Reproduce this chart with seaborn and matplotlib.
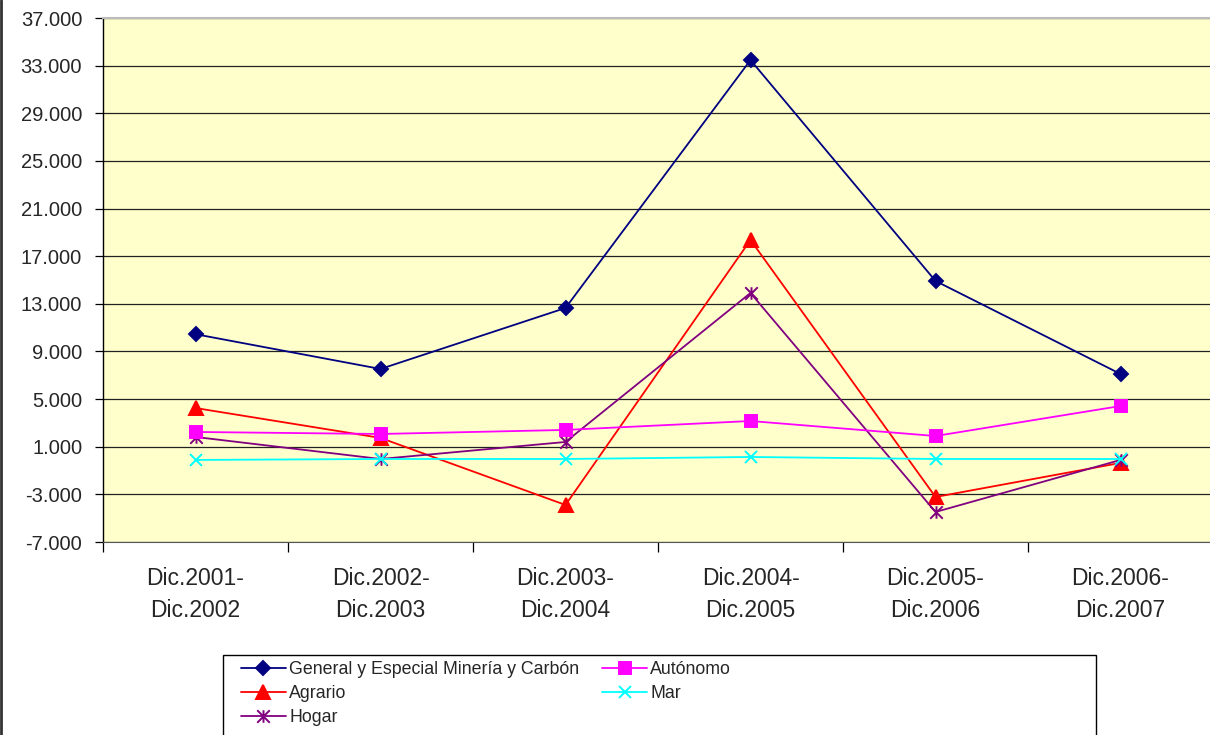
import pandas as pd
import seaborn as sns
import numpy as np
import matplotlib
matplotlib.use("Agg")
import matplotlib.pyplot as plt
from matplotlib.path import Path
from matplotlib.patches import Rectangle
from matplotlib.lines import Line2D
from matplotlib.ticker import FuncFormatter, FixedLocator

# data
periodos = ["Dic.2001-\nDic.2002", "Dic.2002-\nDic.2003", "Dic.2003-\nDic.2004",
            "Dic.2004-\nDic.2005", "Dic.2005-\nDic.2006", "Dic.2006-\nDic.2007"]
general = [10450, 7530, 12650, 33470, 14920, 7110]
agrario = [4250, 1740, -3890, 18360, -3220, -360]
autonomo = [2240, 2070, 2410, 3160, 1900, 4420]
mar = [-110, -30, -30, 140, -30, -30]
hogar = [1820, -30, 1400, 13910, -4480, -110]

series = ["General y Especial Minería y Carbón", "Agrario", "Hogar", "Autónomo", "Mar"]
valores = [general, agrario, hogar, autonomo, mar]
colores = ["#000080", "#FF0000", "#800080", "#FF00FF", "#00FFFF"]

# excel style asterisk (x plus vertical bar)
asterisco = Path([(0, -1), (0, 1), (-1, -1), (1, 1), (-1, 1), (1, -1)],
                 [Path.MOVETO, Path.LINETO, Path.MOVETO, Path.LINETO, Path.MOVETO, Path.LINETO])
marcadores = ["D", "^", asterisco, "s", "x"]
tamanos = [7.5, 10, 9, 9, 9]

sns.set_style("white")
plt.rcParams["font.family"] = ["Liberation Sans", "DejaVu Sans"]

fig = plt.figure(figsize=(12.1, 7.35), dpi=100)
ax = fig.add_axes([103 / 1210, 1 - 542 / 735, 1110 / 1210, 524 / 735])
ax.set_facecolor("#FFFFCC")

for nombre, vals, col, mk, ms in zip(series, valores, colores, marcadores, tamanos):
    df = pd.DataFrame({"periodo": periodos, "valor": vals})
    sns.lineplot(data=df, x="periodo", y="valor", ax=ax, color=col, marker=mk,
                 markersize=ms, markeredgecolor=col, markerfacecolor=col,
                 markeredgewidth=1.4, linewidth=1.3, label=nombre, sort=False)

ax.set_xlim(-0.5, 5.5)
ax.set_ylim(-7000, 37000)
ax.set_yticks(np.arange(-7000, 37001, 4000))
ax.yaxis.set_major_formatter(FuncFormatter(lambda v, p: f"{v:,.0f}".replace(",", ".")))
ax.grid(axis="y", color="#222222", linewidth=0.9)
ax.set_axisbelow(True)
ax.set_xlabel("")
ax.set_ylabel("")

ax.tick_params(axis="y", left=True, length=6, width=0.9, color="black",
               labelsize=14.5, pad=9)
ax.tick_params(axis="x", which="major", length=0, labelsize=16.5, pad=18)
ax.xaxis.set_minor_locator(FixedLocator(np.arange(-0.5, 6, 1)))
ax.tick_params(axis="x", which="minor", bottom=True, length=7, width=0.9, color="black")
for lab in ax.get_xticklabels():
    lab.set_linespacing(1.5)

ax.spines["left"].set_color("black")
ax.spines["left"].set_linewidth(1.0)
ax.spines["bottom"].set_color("#555555")
ax.spines["top"].set_color("#BBBBBB")
ax.spines["top"].set_linewidth(1.5)
ax.spines["right"].set_visible(False)

handles, labels = ax.get_legend_handles_labels()
ax.get_legend().remove()
leg = fig.legend(handles, labels, loc="upper left", bbox_to_anchor=(234 / 1210, 1 - 654 / 735),
                 ncol=2, frameon=False, fontsize=12.8, handlelength=2.5, handletextpad=0.2,
                 columnspacing=1.3, labelspacing=0.4, borderaxespad=0)

fig.add_artist(Rectangle((223 / 1210, -0.05), (1096 - 223) / 1210, 0.05 + 80 / 735,
                         transform=fig.transFigure, fill=False, edgecolor="black",
                         linewidth=1.0))
fig.add_artist(Line2D([0.001, 0.001], [0, 1], transform=fig.transFigure,
                      color="#333333", linewidth=2))

fig.savefig("out.png", dpi=100)
